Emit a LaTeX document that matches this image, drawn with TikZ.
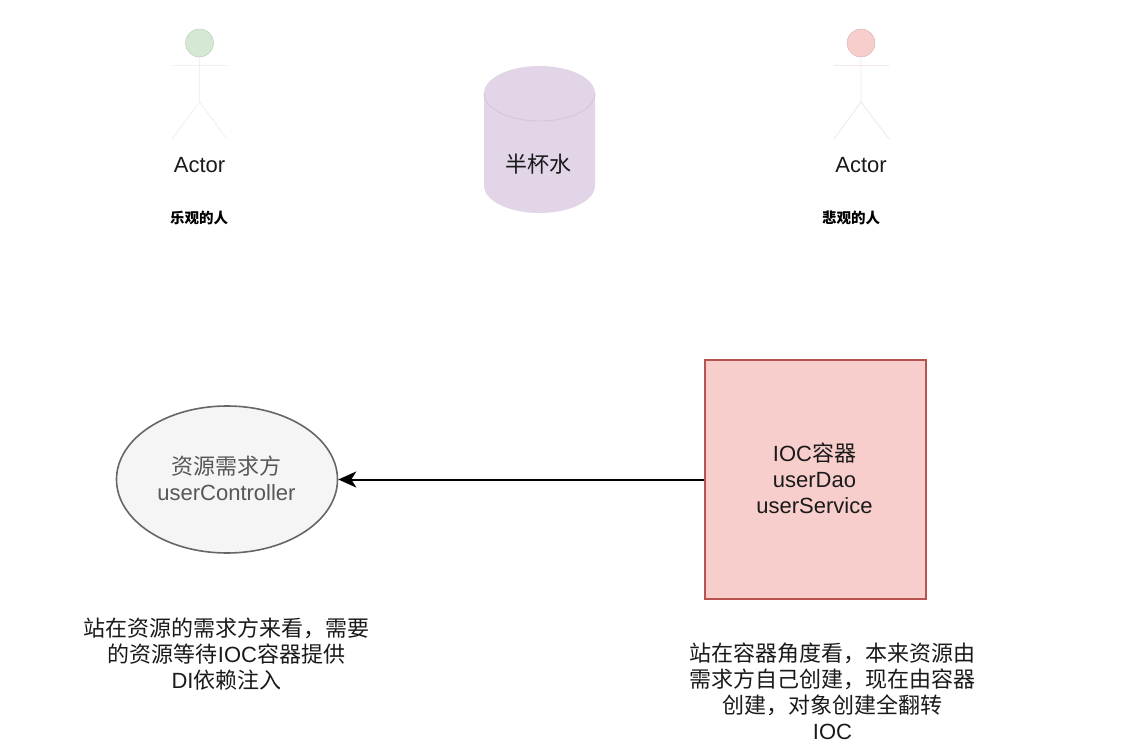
\documentclass[tikz,border=0pt]{standalone}
\usepackage{fontspec}
\setmainfont{Liberation Sans}
\newfontfamily\cjkfam{Noto Sans CJK SC}
\newcommand{\zh}[1]{{\cjkfam #1}}
\usetikzlibrary{shapes.geometric,arrows.meta}
\definecolor{greenfill}{HTML}{D5E8D4}
\definecolor{greenline}{HTML}{EDF3EB}
\definecolor{redfill}{HTML}{F8CECC}
\definecolor{redline}{HTML}{B85450}
\definecolor{redthin}{HTML}{F2E8E7}
\definecolor{purplefill}{HTML}{E1D5E7}
\definecolor{purpleline}{HTML}{D3C6DA}
\definecolor{grayfill}{HTML}{F5F5F5}
\definecolor{grayline}{HTML}{666666}
\definecolor{ink}{HTML}{1A1A1A}
\tikzset{
  x=1pt,y=-1pt,
  lbl/.style={align=center,inner sep=0pt,text=ink,font=\fontsize{22}{26}\selectfont},
  small/.style={inner sep=0pt,text=black,font=\fontsize{14.5}{17}\selectfont\bfseries},
  limb/.style={line width=0.9pt},
  head/.style={circle,minimum size=28pt,inner sep=0pt,line width=0.4pt},
  conn/.style={line width=2pt,draw=black,-{Stealth[length=18pt,width=16pt,inset=5pt]}}
}
\begin{document}
\begin{tikzpicture}
\useasboundingbox (0,0) rectangle (1148,751);
% left actor
\node[head,fill=greenfill,draw=greenfill!85!black] (h1) at (199.5,43) {};
\coordinate (b1) at (199.5,102);
\coordinate (s1l) at (172,65.5);
\coordinate (s1r) at (227,65.5);
\coordinate (l1l) at (172,139);
\coordinate (l1r) at (227,139);
\draw[limb,greenline] (h1.south) -- (b1) (s1l) -- (s1r) (l1l) -- (b1) -- (l1r);
\node[lbl] (a1) at (199.5,165.3) {Actor};
\node[small] (t1) at (199,217.5) {\zh{乐观的人}};
% right actor
\node[head,fill=redfill,draw=redfill!85!black] (h2) at (861,43) {};
\coordinate (b2) at (861,102);
\coordinate (s2l) at (834,65.5);
\coordinate (s2r) at (889,65.5);
\coordinate (l2l) at (834,139);
\coordinate (l2r) at (889,139);
\draw[limb,redthin] (h2.south) -- (b2) (s2l) -- (s2r) (l2l) -- (b2) -- (l2r);
\node[lbl] (a2) at (861,165.3) {Actor};
\node[small] (t2) at (851,217.5) {\zh{悲观的人}};
% cylinder
\fill[purplefill] (484,93.5) .. controls (484,78) and (509,66) .. (539.5,66)
  .. controls (570,66) and (595,78) .. (595,93.5) -- (595,185.5)
  .. controls (595,201) and (570,213) .. (539.5,213)
  .. controls (509,213) and (484,201) .. (484,185.5) -- cycle;
\draw[purpleline,line width=0.8pt] (484,93.5) .. controls (484,109) and (509,121) .. (539.5,121)
  .. controls (570,121) and (595,109) .. (595,93.5);
\node[lbl] (cup) at (538.5,164) {\zh{半杯水}};
% ellipse
\node[ellipse,draw=grayline,fill=grayfill,line width=1.6pt,minimum width=221pt,minimum height=147pt,inner sep=0pt] (need) at (227,479.5) {};
\node[lbl,text=grayline!85!black] (needt) at (226.5,478.7) {\zh{资源需求方}\\userController};
% rectangle
\node[rectangle,draw=redline,fill=redfill,line width=2pt,minimum width=221pt,minimum height=239pt,inner sep=0pt] (ioc) at (815,479.5) {};
\node[lbl] (ioct) at (814.5,478.5) {IOC\zh{容器}\\userDao\\userService};
\draw[conn] (ioc.west) -- (need.east);
% notes
\node[lbl] (n1) at (226.5,654.5) {\zh{站在资源的需求方来看，需要}\\\zh{的资源等待}IOC\zh{容器提供}\\DI\zh{依赖注入}};
\node[lbl] (n2) at (832.5,691) {\zh{站在容器角度看，本来资源由}\\\zh{需求方自己创建，现在由容器}\\\zh{创建，对象创建全翻转}\\IOC};
\end{tikzpicture}
\end{document}
